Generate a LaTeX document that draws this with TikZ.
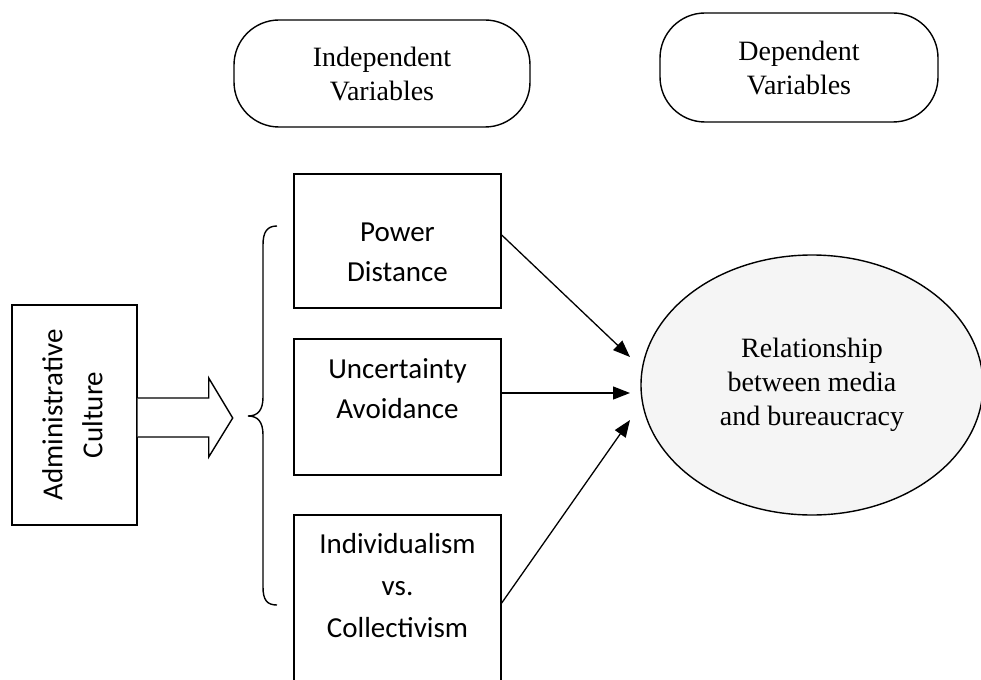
\documentclass[tikz,border=0pt]{standalone}
\usepackage{fontspec}
\setmainfont{Liberation Serif}
\newfontfamily\calib{Carlito}
\usetikzlibrary{arrows.meta,shapes.geometric,calc}
\definecolor{ellfill}{HTML}{F5F5F5}
\begin{document}
\begin{tikzpicture}[x=1pt,y=-1pt,
  box/.style={draw, line width=1.4pt, rectangle, inner sep=0pt},
  stext/.style={font=\calib\fontsize{29}{40}\selectfont, align=center, inner sep=0pt},
  rtext/.style={font=\fontsize{28}{34}\selectfont, align=center, inner sep=0pt},
  pill/.style={draw, line width=1.4pt, rounded corners=45pt, rectangle, inner sep=0pt, font=\fontsize{28}{34}\selectfont, align=center},
  arr/.style={line width=1.3pt, -{Triangle[length=17pt,width=13pt]}},
]
\useasboundingbox (0,0) rectangle (981,679);
% top labels
\node[pill, minimum width=296pt, minimum height=107pt] (ind) at (382,73.5) {Independent\\Variables};
\node[pill, minimum width=278pt, minimum height=109pt] (dep) at (799,67.5) {Dependent\\Variables};
% administrative culture
\node[box, minimum width=125pt, minimum height=220pt] (adm) at (74.5,415) {};
\node[stext, rotate=90] (admt) at (72.5,415) {Administrative\\Culture};
% block arrow
\draw[line width=1.4pt, fill=white, shift={(adm.east)}] (0,-17) -- (71,-17) -- (71,-37) -- (95,3) -- (71,42) -- (71,22) -- (0,22);
% brace
\draw[line width=1.4pt] (277,226) .. controls (267,226) and (263,232) .. (263,245) -- (263,397)
  .. controls (263,410) and (258,416) .. (248,416)
  .. controls (258,416) and (263,422) .. (263,435) -- (263,587)
  .. controls (263,600) and (267,605) .. (277,605);
% dimension boxes
\node[box, minimum width=207pt, minimum height=134pt] (pd) at (397.5,241) {};
\node[stext] (pdt) at (397.5,252) {Power\\Distance};
\node[box, minimum width=207pt, minimum height=136pt] (ua) at (397.5,407) {};
\node[stext] (uat) at (397.5,389) {Uncertainty\\Avoidance};
\node[box, minimum width=207pt, minimum height=200pt] (ic) at (397.5,615) {};
\node[stext, font=\calib\fontsize{29}{42}\selectfont] (ict) at (397.5,586) {Individualism\\vs.\\Collectivism};
% dependent variable
\node[draw, ellipse, line width=1.4pt, fill=ellfill, minimum width=342pt, minimum height=260pt, inner sep=0pt, rtext] (rel) at (812,385) {Relationship\\between media\\and bureaucracy};
% arrows
\coordinate (t1) at (630,357);
\coordinate (t2) at (630,393);
\coordinate (t3) at (630,420);
\draw[arr] ([yshift=6pt]pd.east) -- (t1);
\draw[arr] ([yshift=14pt]ua.east) -- (t2);
\draw[arr] ([yshift=12pt]ic.east) -- (t3);
\end{tikzpicture}
\end{document}
